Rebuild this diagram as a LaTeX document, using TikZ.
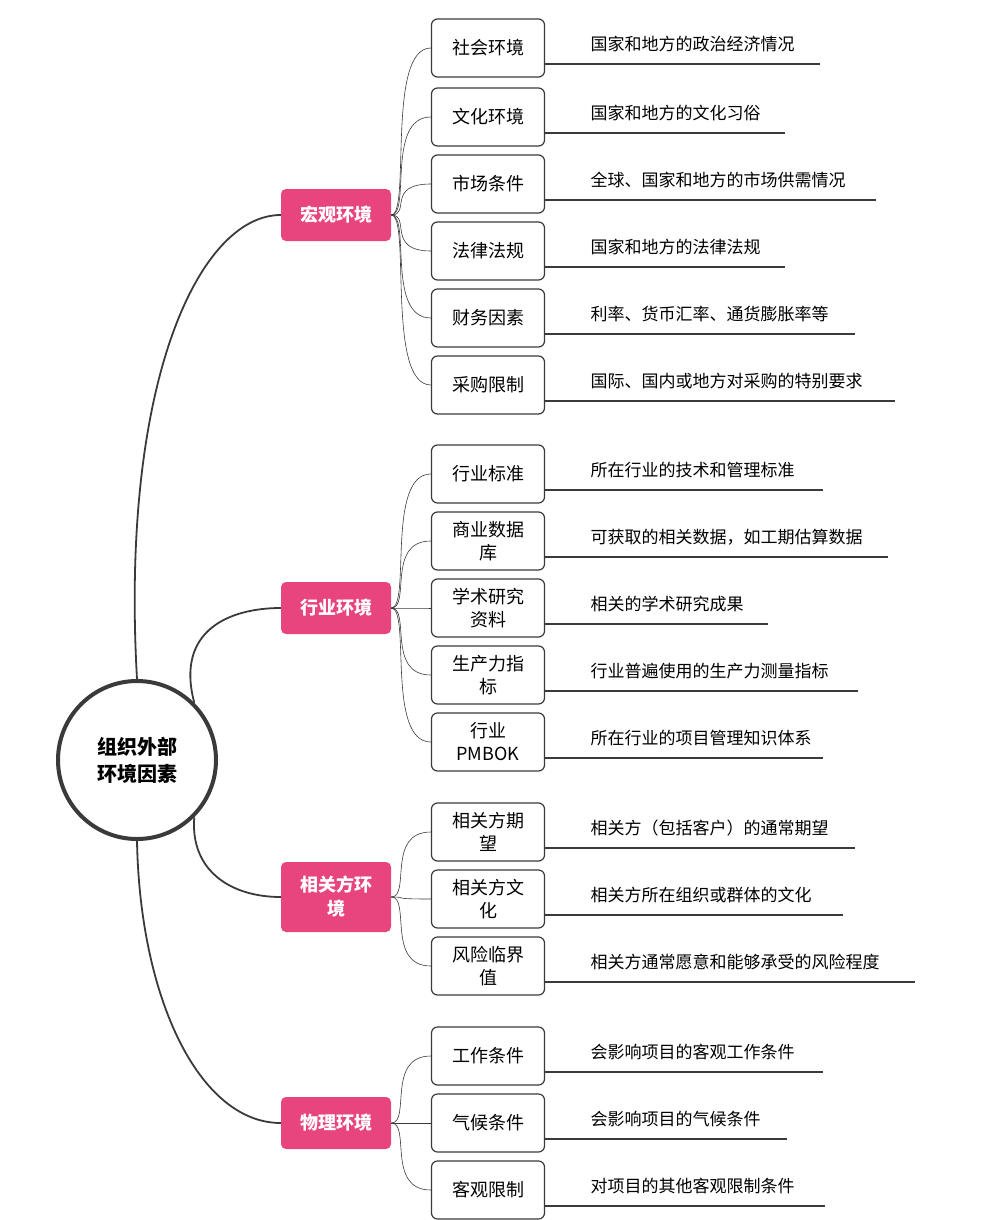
\documentclass[tikz,border=0pt]{standalone}
\usepackage{fontspec}
\setmainfont{Noto Sans CJK SC}
\usetikzlibrary{positioning,calc}
\definecolor{pinkbox}{HTML}{E8457F}
\definecolor{linegray}{HTML}{3A3A3A}

\begin{document}
\begin{tikzpicture}[x=1pt, y=-1pt,
    rootnode/.style={circle, draw=linegray, line width=4pt, minimum size=158pt, align=center, font=\bfseries\fontsize{20}{27}\selectfont},
    groupbox/.style={rectangle, rounded corners=5pt, fill=pinkbox, text=white, minimum width=110pt, minimum height=52pt, align=center, font=\bfseries\fontsize{18}{24}\selectfont, text width=100pt},
    leafbox/.style={rectangle, draw=linegray, line width=1.2pt, rounded corners=6pt, minimum width=113pt, minimum height=58pt, align=center, text width=100pt, font=\fontsize{18}{23}\selectfont},
    note/.style={anchor=west, font=\fontsize{17}{20}\selectfont},
    branch/.style={linegray, line width=1.8pt},
    twig/.style={linegray, line width=0.6pt},
    uline/.style={linegray, line width=1.2pt}
]
\useasboundingbox (0,0) rectangle (982,1220);

\node[rootnode] (root) at (137,760) {组织外部\\环境因素};

\node[groupbox] (macro) at (336,215) {宏观环境};
\node[groupbox] (industry) at (336,608) {行业环境};
\node[groupbox, minimum height=70pt] (stake) at (336,897) {相关方环\\境};
\node[groupbox] (physical) at (336,1123) {物理环境};

\draw[branch] (root.north) .. controls (120,380) and (200,215) .. (macro.west);
\draw[branch] (root.north east) .. controls (175,630) and (230,608) .. (industry.west);
\draw[branch] (root.south east) .. controls (190,870) and (230,897) .. (stake.west);
\draw[branch] (root.south) .. controls (140,1000) and (200,1123) .. (physical.west);

% leaves: name / y / label / note / underline end
\foreach \n/\y/\lab/\txt/\e/\g in {
  m1/48/社会环境/国家和地方的政治经济情况/820/macro,
  m2/117/文化环境/国家和地方的文化习俗/785/macro,
  m3/184/市场条件/全球、国家和地方的市场供需情况/876/macro,
  m4/251/法律法规/国家和地方的法律法规/785/macro,
  m5/318/财务因素/利率、货币汇率、通货膨胀率等/855/macro,
  m6/385/采购限制/国际、国内或地方对采购的特别要求/895/macro,
  i1/474/行业标准/所在行业的技术和管理标准/823/industry,
  i2/541/商业数据\\库/可获取的相关数据，如工期估算数据/888/industry,
  i3/608/学术研究\\资料/相关的学术研究成果/768/industry,
  i4/675/生产力指\\标/行业普遍使用的生产力测量指标/858/industry,
  i5/742/行业\\PMBOK/所在行业的项目管理知识体系/823/industry,
  s1/832/相关方期\\望/相关方（包括客户）的通常期望/855/stake,
  s2/899/相关方文\\化/相关方所在组织或群体的文化/843/stake,
  s3/966/风险临界\\值/相关方通常愿意和能够承受的风险程度/915/stake,
  p1/1056/工作条件/会影响项目的客观工作条件/823/physical,
  p2/1123/气候条件/会影响项目的气候条件/787/physical,
  p3/1190/客观限制/对项目的其他客观限制条件/825/physical}{
  \node[leafbox] (\n) at (488,\y) {\lab};
  \node[note] (\n-note) at (587,\y-4) {\txt};
  \coordinate (\n-end) at (\e,\y+16);
  \draw[uline] (\n.east |- \n-end) -- (\n-end);
  \draw[twig] (\g.east) .. controls ($(\g.east)!0.5!(\n.west |- \g.east)$) and ($(\n.west)+(-45,0)$) .. (\n.west);
}
\end{tikzpicture}
\end{document}
